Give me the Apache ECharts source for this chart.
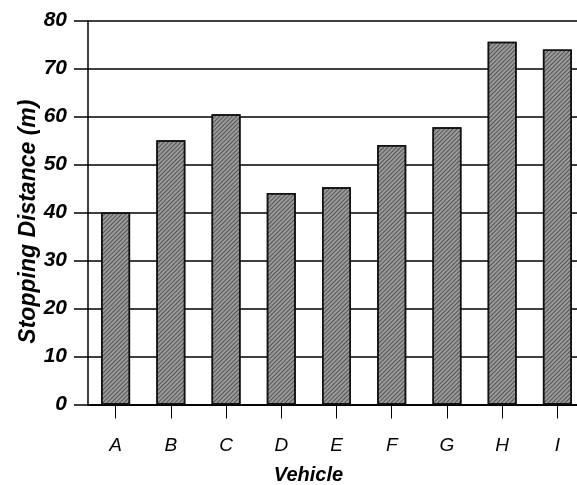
<!DOCTYPE html>
<html>
<head>
<meta charset="utf-8">
<script src="https://cdn.jsdelivr.net/npm/echarts@6/dist/echarts.min.js"></script>
<style>
html,body{margin:0;padding:0;background:#fff;}
#chart{width:577px;height:485px;}
</style>
</head>
<body>
<div id="chart"></div>
<script>
const categories = ['A','B','C','D','E','F','G','H','I'];
const stoppingDistance = [40.0, 55.1, 60.5, 44.1, 45.3, 54.1, 57.8, 75.6, 74.0];
const yTicks = [0, 10, 20, 30, 40, 50, 60, 70, 80];

const chart = echarts.init(document.getElementById('chart'));
const font = '"Liberation Sans", Arial, sans-serif';
chart.setOption({
  animation: false,
  backgroundColor: '#fff',
  grid: { left: 88, top: 20.7, bottom: 80.5, width: 497, outerBoundsMode: 'none', containLabel: false },
  xAxis: {
    type: 'category',
    data: categories,
    name: 'Vehicle',
    nameLocation: 'middle',
    nameGap: 61,
    nameMoveOverlap: false,
    nameTextStyle: { fontFamily: font, fontSize: 20, fontWeight: 'bold', fontStyle: 'italic', color: '#000', padding: [0, 56, 0, 0] },
    axisLine: { show: true, lineStyle: { color: '#000', width: 2 } },
    axisTick: { show: true, alignWithLabel: true, inside: false, length: 14, lineStyle: { color: '#000', width: 1 } },
    axisLabel: { margin: 32, fontFamily: font, fontSize: 19, fontStyle: 'italic', color: '#000' },
    splitLine: { show: false }
  },
  yAxis: {
    type: 'value',
    min: yTicks[0],
    max: yTicks[yTicks.length - 1],
    interval: 10,
    name: 'Stopping Distance (m)',
    nameLocation: 'middle',
    nameGap: 48,
    nameMoveOverlap: false,
    nameTextStyle: { fontFamily: font, fontSize: 23, fontWeight: 'bold', fontStyle: 'italic', color: '#000', padding: [0, 18, 0, 0] },
    axisLine: { show: true, lineStyle: { color: '#000', width: 1.5 } },
    axisTick: { show: true, inside: false, length: 14, lineStyle: { color: '#000', width: 1.5 } },
    axisLabel: { margin: 21, fontFamily: font, fontSize: 21, fontWeight: 'bold', fontStyle: 'italic', color: '#000' },
    splitLine: { show: true, lineStyle: { color: '#000', width: 1.5 } }
  },
  series: [{
    type: 'bar',
    data: stoppingDistance,
    barWidth: 29,
    itemStyle: {
      color: '#9a9a9a',
      borderColor: '#111',
      borderWidth: 1.5,
      decal: {
        symbol: 'rect',
        symbolSize: 1,
        dashArrayX: [1, 0],
        dashArrayY: [1, 2],
        rotation: -Math.PI / 4,
        color: 'rgba(0,0,0,0.45)'
      }
    }
  }]
});
</script>
</body>
</html>
